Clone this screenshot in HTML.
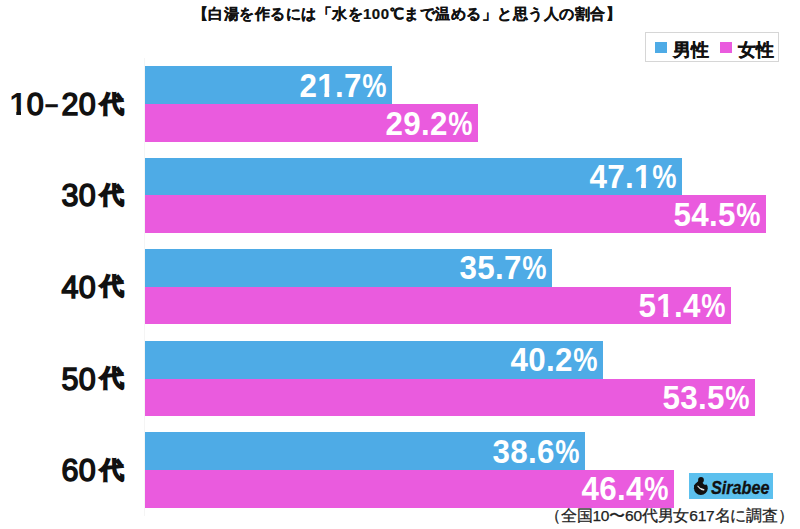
<!DOCTYPE html>
<html><head><meta charset="utf-8">
<style>
html,body{margin:0;padding:0;background:#fff;width:800px;height:529px;overflow:hidden;position:relative;font-family:"Liberation Sans",sans-serif;}
.t{position:absolute;white-space:nowrap;}
.bar{position:absolute;}
.v{position:absolute;white-space:nowrap;font-weight:bold;color:#fff;transform-origin:100% 50%;}
</style></head><body>
<div class="t" style="left:192.5px;top:5px;font-size:15px;font-weight:bold;color:#111;-webkit-text-stroke:0.2px #111;letter-spacing:0.5px">【白湯を作るには「水を100℃まで温める」と思う人の割合】</div>
<div style="position:absolute;left:645px;top:32px;width:134px;height:30px;border:1px solid #d6d6d6;box-sizing:border-box"></div>
<div style="position:absolute;left:655px;top:42px;width:11.5px;height:11px;background:#4eabe6"></div>
<div style="position:absolute;left:720px;top:42px;width:11.5px;height:11px;background:#ea5bde"></div>
<div class="t" style="left:672.5px;top:37.5px;font-size:18px;font-weight:bold;color:#111;-webkit-text-stroke:0.2px #111">男性</div>
<div class="t" style="left:737.5px;top:37.5px;font-size:18px;font-weight:bold;color:#111;-webkit-text-stroke:0.2px #111">女性</div>
<div style="position:absolute;left:144px;top:58px;width:1px;height:458px;background:#f5f5f5"></div>
<div class="t" style="right:676.5px;top:84.19999999999999px;height:40px;line-height:40px;font-size:30.5px;font-weight:normal;-webkit-text-stroke:1.5px #111;color:#111;letter-spacing:0.3px;transform:scaleX(1);transform-origin:100% 50%"><span style="font-weight:bold;-webkit-text-stroke:0;display:inline-block;line-height:1em;clip-path:polygon(0 -0.2em,0.6em -0.2em,0.6em 0.70em,0.38em 0.70em,0.38em 1.1em,0.225em 1.1em,0.225em 0.70em,0 0.70em)">1</span>0<span style="display:inline-block;width:17.5px;text-align:center;-webkit-text-stroke:0.5px #111;position:relative;top:-1.2px;left:-1px;transform:scaleX(1.55)">&#45;</span>20<span style="font-size:24px;letter-spacing:0;font-weight:bold;-webkit-text-stroke:1.5px #111;margin-left:3.5px;position:relative;top:-3.2px">代</span></div>
<div class="bar" style="left:145px;top:66.30px;width:247.38px;height:39.40px;background:#4eabe6"></div>
<div class="v" style="right:413.12px;top:66.90px;height:37.90px;line-height:37.90px;font-size:33px;font-weight:bold;-webkit-text-stroke:0px #fff;letter-spacing:0.3px;transform:scaleX(0.95);transform-origin:100% 50%">2<span style="display:inline-block;line-height:1em;clip-path:polygon(0 -0.2em,0.6em -0.2em,0.6em 0.70em,0.38em 0.70em,0.38em 1.1em,0.225em 1.1em,0.225em 0.70em,0 0.70em)">1</span>.7<span style="display:inline-block;transform:scaleX(0.87);transform-origin:100% 50%;margin-left:-3.5px">%</span></div>
<div class="bar" style="left:145px;top:104.20px;width:332.88px;height:37.90px;background:#ea5bde"></div>
<div class="v" style="right:327.62px;top:104.80px;height:37.90px;line-height:37.90px;font-size:33px;font-weight:bold;-webkit-text-stroke:0px #fff;letter-spacing:0.3px;transform:scaleX(0.95);transform-origin:100% 50%">29.2<span style="display:inline-block;transform:scaleX(0.87);transform-origin:100% 50%;margin-left:-3.5px">%</span></div>
<div class="t" style="right:676.5px;top:175.4px;height:40px;line-height:40px;font-size:30.5px;font-weight:normal;-webkit-text-stroke:1.5px #111;color:#111;letter-spacing:0.3px;transform:scaleX(1);transform-origin:100% 50%">30<span style="font-size:24px;letter-spacing:0;font-weight:bold;-webkit-text-stroke:1.5px #111;margin-left:3.5px;position:relative;top:-3.2px">代</span></div>
<div class="bar" style="left:145px;top:157.50px;width:536.94px;height:39.40px;background:#4eabe6"></div>
<div class="v" style="right:123.56px;top:158.10px;height:37.90px;line-height:37.90px;font-size:33px;font-weight:bold;-webkit-text-stroke:0px #fff;letter-spacing:0.3px;transform:scaleX(0.95);transform-origin:100% 50%">47.<span style="display:inline-block;line-height:1em;clip-path:polygon(0 -0.2em,0.6em -0.2em,0.6em 0.70em,0.38em 0.70em,0.38em 1.1em,0.225em 1.1em,0.225em 0.70em,0 0.70em)">1</span><span style="display:inline-block;transform:scaleX(0.87);transform-origin:100% 50%;margin-left:-3.5px">%</span></div>
<div class="bar" style="left:145px;top:195.40px;width:621.30px;height:37.90px;background:#ea5bde"></div>
<div class="v" style="right:39.20px;top:196.00px;height:37.90px;line-height:37.90px;font-size:33px;font-weight:bold;-webkit-text-stroke:0px #fff;letter-spacing:0.3px;transform:scaleX(0.95);transform-origin:100% 50%">54.5<span style="display:inline-block;transform:scaleX(0.87);transform-origin:100% 50%;margin-left:-3.5px">%</span></div>
<div class="t" style="right:676.5px;top:266.5px;height:40px;line-height:40px;font-size:30.5px;font-weight:normal;-webkit-text-stroke:1.5px #111;color:#111;letter-spacing:0.3px;transform:scaleX(1);transform-origin:100% 50%">40<span style="font-size:24px;letter-spacing:0;font-weight:bold;-webkit-text-stroke:1.5px #111;margin-left:3.5px;position:relative;top:-3.2px">代</span></div>
<div class="bar" style="left:145px;top:248.60px;width:406.98px;height:39.40px;background:#4eabe6"></div>
<div class="v" style="right:253.52px;top:249.20px;height:37.90px;line-height:37.90px;font-size:33px;font-weight:bold;-webkit-text-stroke:0px #fff;letter-spacing:0.3px;transform:scaleX(0.95);transform-origin:100% 50%">35.7<span style="display:inline-block;transform:scaleX(0.87);transform-origin:100% 50%;margin-left:-3.5px">%</span></div>
<div class="bar" style="left:145px;top:286.50px;width:585.96px;height:37.90px;background:#ea5bde"></div>
<div class="v" style="right:74.54px;top:287.10px;height:37.90px;line-height:37.90px;font-size:33px;font-weight:bold;-webkit-text-stroke:0px #fff;letter-spacing:0.3px;transform:scaleX(0.95);transform-origin:100% 50%">5<span style="display:inline-block;line-height:1em;clip-path:polygon(0 -0.2em,0.6em -0.2em,0.6em 0.70em,0.38em 0.70em,0.38em 1.1em,0.225em 1.1em,0.225em 0.70em,0 0.70em)">1</span>.4<span style="display:inline-block;transform:scaleX(0.87);transform-origin:100% 50%;margin-left:-3.5px">%</span></div>
<div class="t" style="right:676.5px;top:358.5px;height:40px;line-height:40px;font-size:30.5px;font-weight:normal;-webkit-text-stroke:1.5px #111;color:#111;letter-spacing:0.3px;transform:scaleX(1);transform-origin:100% 50%">50<span style="font-size:24px;letter-spacing:0;font-weight:bold;-webkit-text-stroke:1.5px #111;margin-left:3.5px;position:relative;top:-3.2px">代</span></div>
<div class="bar" style="left:145px;top:340.60px;width:458.28px;height:39.40px;background:#4eabe6"></div>
<div class="v" style="right:202.22px;top:341.20px;height:37.90px;line-height:37.90px;font-size:33px;font-weight:bold;-webkit-text-stroke:0px #fff;letter-spacing:0.3px;transform:scaleX(0.95);transform-origin:100% 50%">40.2<span style="display:inline-block;transform:scaleX(0.87);transform-origin:100% 50%;margin-left:-3.5px">%</span></div>
<div class="bar" style="left:145px;top:378.50px;width:609.90px;height:37.90px;background:#ea5bde"></div>
<div class="v" style="right:50.60px;top:379.10px;height:37.90px;line-height:37.90px;font-size:33px;font-weight:bold;-webkit-text-stroke:0px #fff;letter-spacing:0.3px;transform:scaleX(0.95);transform-origin:100% 50%">53.5<span style="display:inline-block;transform:scaleX(0.87);transform-origin:100% 50%;margin-left:-3.5px">%</span></div>
<div class="t" style="right:676.5px;top:449.79999999999995px;height:40px;line-height:40px;font-size:30.5px;font-weight:normal;-webkit-text-stroke:1.5px #111;color:#111;letter-spacing:0.3px;transform:scaleX(1);transform-origin:100% 50%">60<span style="font-size:24px;letter-spacing:0;font-weight:bold;-webkit-text-stroke:1.5px #111;margin-left:3.5px;position:relative;top:-3.2px">代</span></div>
<div class="bar" style="left:145px;top:431.90px;width:440.04px;height:39.40px;background:#4eabe6"></div>
<div class="v" style="right:220.46px;top:432.50px;height:37.90px;line-height:37.90px;font-size:33px;font-weight:bold;-webkit-text-stroke:0px #fff;letter-spacing:0.3px;transform:scaleX(0.95);transform-origin:100% 50%">38.6<span style="display:inline-block;transform:scaleX(0.87);transform-origin:100% 50%;margin-left:-3.5px">%</span></div>
<div class="bar" style="left:145px;top:469.80px;width:528.96px;height:37.90px;background:#ea5bde"></div>
<div class="v" style="right:131.54px;top:470.40px;height:37.90px;line-height:37.90px;font-size:33px;font-weight:bold;-webkit-text-stroke:0px #fff;letter-spacing:0.3px;transform:scaleX(0.95);transform-origin:100% 50%">46.4<span style="display:inline-block;transform:scaleX(0.87);transform-origin:100% 50%;margin-left:-3.5px">%</span></div>
<div style="position:absolute;left:689px;top:473px;width:84px;height:26px;background:#5cc0ee"></div>
<svg style="position:absolute;left:689px;top:473px" width="84" height="26" viewBox="0 0 84 26"><ellipse cx="11.85" cy="15.2" rx="6.9" ry="6.7" fill="#111"/><path d="M11.0 8.6 L6.6 12.8" stroke="#111" stroke-width="3.2" stroke-linecap="round"/><ellipse cx="15.6" cy="9.9" rx="2.3" ry="1.5" transform="rotate(35 15.6 9.9)" fill="#5cc0ee"/><circle cx="12.0" cy="7.0" r="2.9" fill="#111"/><path d="M8.9 13.2 Q10.6 15.6 13.2 16.3" fill="none" stroke="#e8e8e8" stroke-width="1.1" stroke-linecap="round"/><path d="M12.6 16.2 L14.6 16.7" fill="none" stroke="#e8e8e8" stroke-width="1.6" stroke-linecap="round"/></svg>
<div class="t" style="left:711px;top:478px;font-size:18px;line-height:20px;font-weight:bold;font-style:italic;color:#111;-webkit-text-stroke:0.3px #111;transform:scaleX(0.9);transform-origin:0 50%">Sirabee</div>
<div class="t" style="left:545px;top:506px;font-size:15.5px;color:#222;-webkit-text-stroke:0.25px #222;letter-spacing:-0.2px">（全国10〜60代男女617名に調査）</div>
</body></html>
